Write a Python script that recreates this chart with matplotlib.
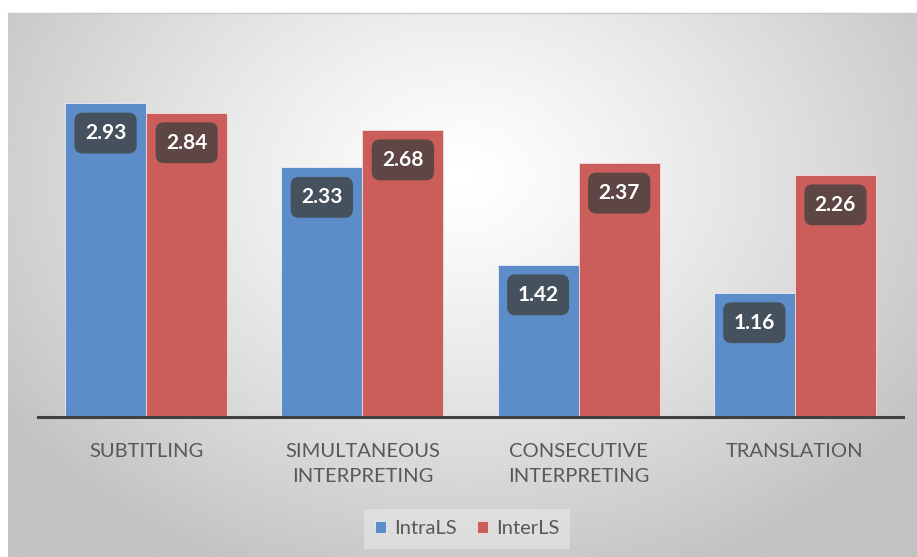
import numpy as np
import matplotlib
matplotlib.use("Agg")
import matplotlib.pyplot as plt

categories = ["SUBTITLING", "SIMULTANEOUS\nINTERPRETING",
              "CONSECUTIVE\nINTERPRETING", "TRANSLATION"]
intra = [2.93, 2.33, 1.42, 1.16]
inter = [2.84, 2.68, 2.37, 2.26]

BLUE = "#5D8DC9"
RED = "#CB5E5B"

plt.rcParams["font.family"] = ["Lato", "DejaVu Sans"]

W, H = 917, 557
fig = plt.figure(figsize=(W / 100, H / 100), dpi=100)
fig.patch.set_facecolor("white")

# radial gradient background panel
bg = fig.add_axes([8 / W, 0, 1 - 8 / W, 1 - 13 / H], zorder=0)
yy, xx = np.mgrid[0:200, 0:330]
cx, cy = 0.5, 0.3
d = np.sqrt(((xx / 329 - cx) * 1.3) ** 2 + ((yy / 199 - cy) * 1.0) ** 2)
val = 1.0 - 0.24 * np.clip(d / 0.8, 0, 1) ** 1.2
bg.imshow(val, cmap="gray", vmin=0, vmax=1, aspect="auto",
          extent=[0, 1, 0, 1], origin="upper", interpolation="bilinear")
bg.set_axis_off()
fig.add_artist(plt.Line2D([8 / W, 1], [1 - 13 / H, 1 - 13 / H],
                          color="#c8c8c8", lw=1))

ax = fig.add_axes([38 / W, 140 / H, (903 - 38) / W, (417 - 42) / H], zorder=1)
ax.patch.set_alpha(0)
x = np.arange(len(categories))
bw = 0.375
b1 = ax.bar(x - bw / 2, intra, bw, color=BLUE, edgecolor="#e8eef8", lw=0.6,
            label="IntraLS")
b2 = ax.bar(x + bw / 2, inter, bw, color=RED, edgecolor="#f3dede", lw=0.6,
            label="InterLS")

ax.set_xlim(-0.5, len(categories) - 0.5)
ax.set_ylim(0, 3.5)
ax.set_yticks([])
for s in ["top", "right", "left"]:
    ax.spines[s].set_visible(False)
ax.spines["bottom"].set_color("#404040")
ax.spines["bottom"].set_linewidth(2.2)
ax.set_xticks(x)
ax.set_xticklabels(categories, fontsize=14.5, color="#595959", linespacing=1.55)
ax.tick_params(axis="x", length=0, pad=19)

for bars in (b1, b2):
    for b in bars:
        v = b.get_height()
        ax.annotate(f"{v:.2f}", (b.get_x() + b.get_width() / 2, v),
                    xytext=(0, -30), textcoords="offset pixels",
                    ha="center", va="center", fontsize=15, fontweight="bold",
                    color="white",
                    bbox=dict(boxstyle="round,pad=0.5,rounding_size=0.4",
                              fc="#404040", ec="none", alpha=0.78))

leg = ax.legend(loc="center", bbox_to_anchor=(467 / W, 28 / H),
                bbox_transform=fig.transFigure, ncol=2, frameon=True,
                fontsize=14.5, handlelength=0.55, handleheight=0.55,
                handletextpad=0.4, columnspacing=1.0, fancybox=False,
                borderpad=0.55)
leg.get_frame().set_facecolor("#e8e8e8")
leg.get_frame().set_edgecolor("none")
leg.get_frame().set_alpha(0.6)
for t in leg.get_texts():
    t.set_color("#595959")

fig.savefig("out.png", dpi=100)
